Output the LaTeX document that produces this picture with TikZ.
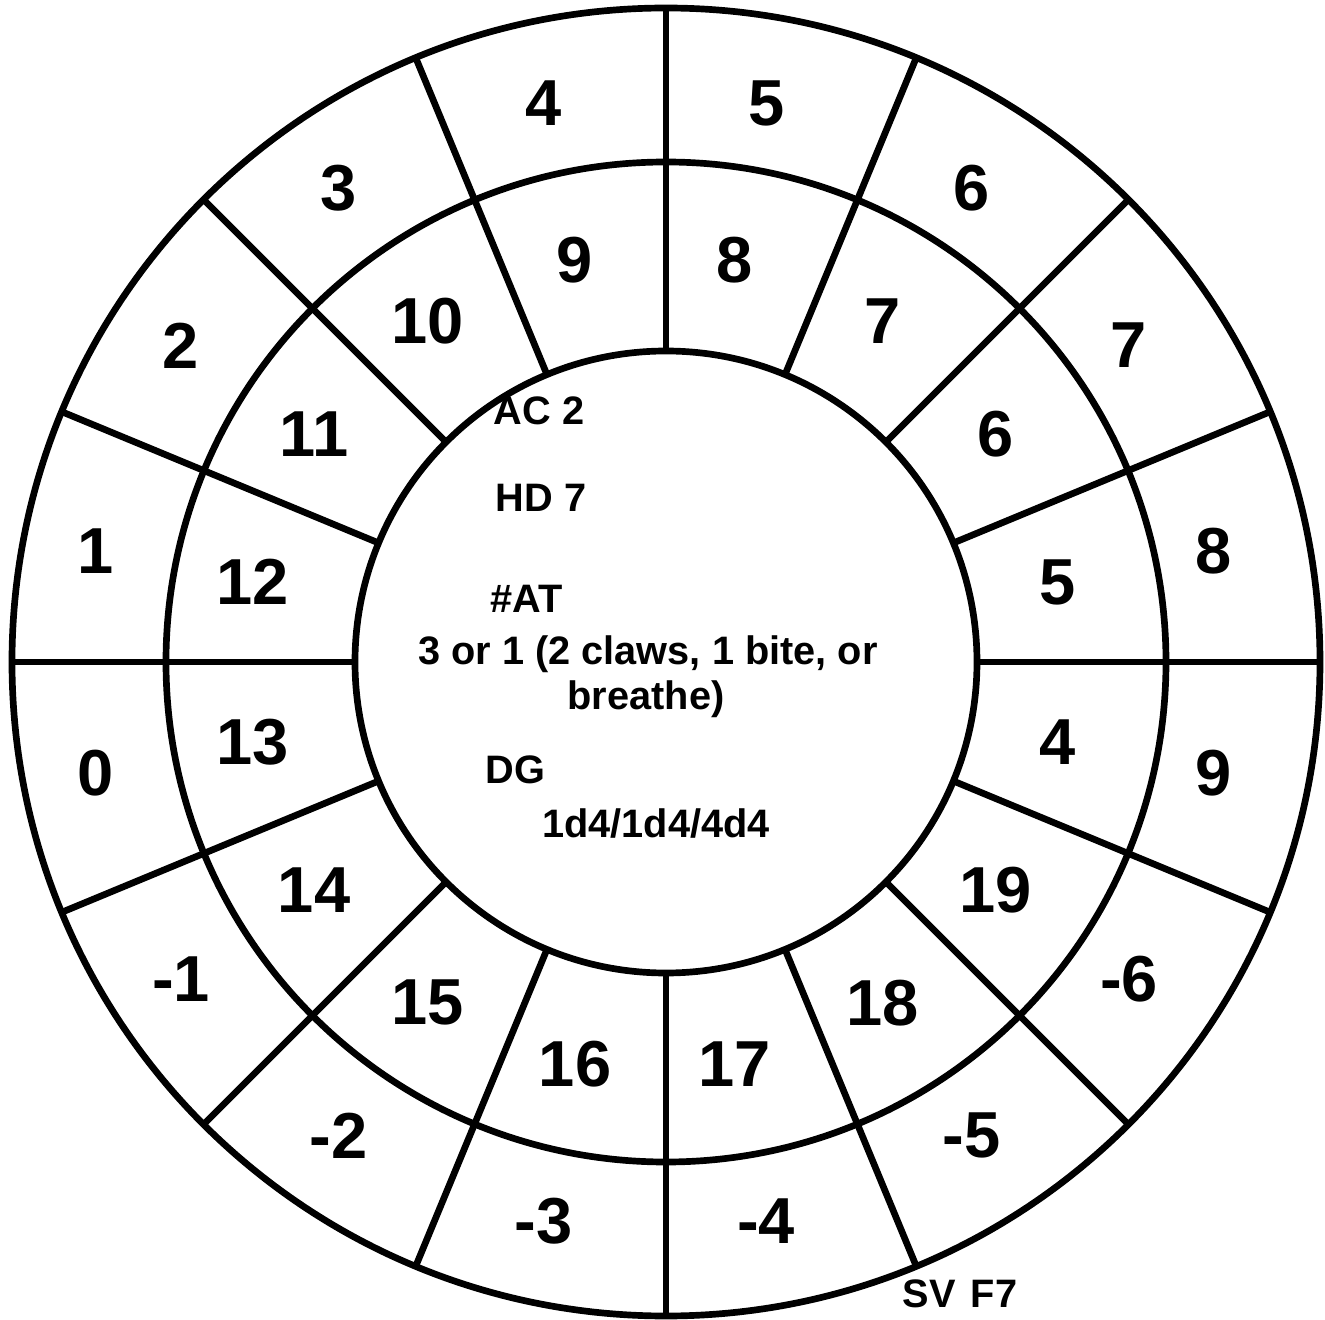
\documentclass[tikz,border=0pt]{standalone}
\usepackage{fontspec}
\setmainfont{Liberation Sans}
\usepackage{tikz}
\usetikzlibrary{positioning, calc}
\tikzset{
  ring/.style    = {draw=black, line width=1.9pt},
  spoke/.style   = {draw=black, line width=1.9pt},
  numlab/.style  = {font=\fontsize{18.5}{20}\selectfont\bfseries, inner sep=0pt},
  infolab/.style = {font=\fontsize{11.3}{13}\selectfont\bfseries, inner sep=0pt},
}

\begin{document}
\begin{tikzpicture}
  \useasboundingbox (-6.66,-6.57) rectangle (6.59,6.62);
  % rings
  \draw[ring] (0,0) circle (6.54);
  \draw[ring] (0,0) circle (5.00);
  \draw[ring] (0,0) circle (3.11);
  % spokes
  \foreach \a in {0,22.5,...,337.5} {
    \draw[spoke] (\a:3.11) -- (\a:6.54);
  }
  \begin{scope}[xshift=-0.11cm]
  % outer ring
  \foreach \i/\lab in {0/5, 1/6, 2/7, 3/8, 4/9, 5/-6, 6/-5, 7/-4,
                       8/-3, 9/-2, 10/-1, 11/0, 12/1, 13/2, 14/3, 15/4} {
    \node[numlab] (o\i) at ({78.75-22.5*\i}:5.70) {\lab};
  }
  % inner ring
  \foreach \i/\lab in {0/8, 1/7, 2/6, 3/5, 4/4, 5/19, 6/18, 7/17,
                       8/16, 9/15, 10/14, 11/13, 12/12, 13/11, 14/10, 15/9} {
    \node[numlab] (n\i) at ({78.75-22.5*\i}:4.10) {\lab};
  }
  \end{scope}
  % stats
  \node[infolab, anchor=base west] (ac) at (-1.73,2.37) {AC 2};
  \node[infolab, anchor=base west] (hd) at (-1.71,1.50) {HD 7};
  \node[infolab, anchor=base west] (at) at (-1.76,0.49) {\#AT};
  \node[infolab, anchor=base] (atnum) at (-0.18,-0.03) {3 or 1 (2 claws, 1 bite, or};
  \node[infolab, anchor=base] (atbr) at (-0.20,-0.48) {breathe)};
  \node[infolab, anchor=base west] (dg) at (-1.81,-1.21) {DG};
  \node[infolab, anchor=base] (dgnum) at (-0.10,-1.75) {1d4/1d4/4d4};
  \node[infolab, anchor=base] (sv) at (2.94,-6.45) {SV\hspace{4.3pt}F7};
\end{tikzpicture}
\end{document}
